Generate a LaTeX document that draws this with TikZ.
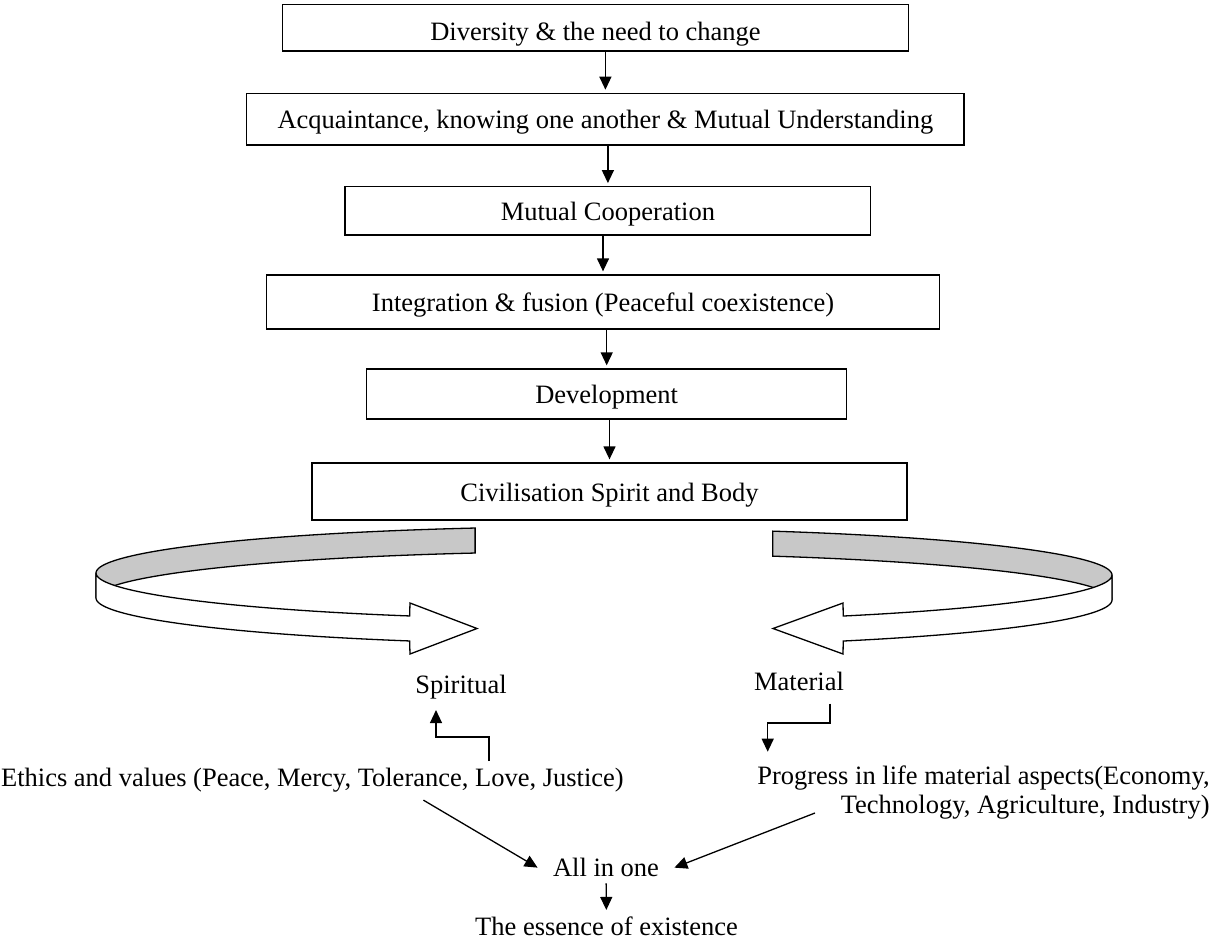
\documentclass[tikz,border=0pt]{standalone}
\usepackage{fontspec}
\setmainfont{Liberation Serif}
\usepackage{xcolor}
\usepackage{tikz}
\usetikzlibrary{arrows.meta, positioning, calc}
\definecolor{ribbongray}{RGB}{200, 200, 200}

\tikzset{
    stagebox/.style={draw, line width=0.65pt, inner sep=0pt, text height=11pt, text depth=1.5pt,
        font=\fontsize{13.25}{14.5}\selectfont},
    plainlabel/.style={inner sep=3pt, font=\fontsize{13.25}{14.5}\selectfont},
    flowarrow/.style={line width=0.65pt, -{Triangle[length=6.5pt, width=6pt]}},
    ribbon/.style={line width=0.65pt, line join=miter},
}

\begin{document}
\begin{tikzpicture}[x=0.5pt, y=-0.5pt]
        \useasboundingbox (0,0) rectangle (1212,944);

        % chain of stages
        \node[stagebox, text height=13pt, text depth=0pt, minimum width=312.8pt, minimum height=23.15pt] (diversity) at (595.5,27.9) {Diversity \& the need to change};
        \node[stagebox, minimum width=358.65pt, minimum height=25.85pt] (acquaint) at (605.4,119.2) {Acquaintance, knowing one another \& Mutual Understanding};
        \node[stagebox, minimum width=262.85pt, minimum height=24.15pt] (coop) at (607.9,210.9) {Mutual Cooperation};
        \node[stagebox, minimum width=336.3pt, minimum height=27pt] (integ) at (603,302) {Integration \& fusion (Peaceful coexistence)};
        \node[stagebox, minimum width=240pt, minimum height=25pt] (devel) at (606.7,394) {Development};
        \node[stagebox, minimum width=297.5pt, minimum height=28.5pt] (civil) at (609.5,491.5) {Civilisation Spirit and Body};

        \foreach \a/\b in {diversity/acquaint, coop/integ, acquaint/coop, integ/devel, devel/civil}
            \draw[flowarrow, shorten >=1.5pt] (\a.south -| \b.north) -- (\b.north);

        % left ribbon: back (inside) then front with arrow head
        \filldraw[ribbon, fill=ribbongray]
            plot[domain=255.3:180, samples=50] ({604+508*cos(\x)}, {573+46.5*sin(\x)})
            -- plot[domain=180:255.3, samples=50] ({604+508*cos(\x)}, {598+46.5*sin(\x)}) -- cycle;
        \filldraw[ribbon, fill=white]
            plot[domain=180:112.5, samples=50] ({604+508*cos(\x)}, {573+46.5*sin(\x)})
            -- (410,603) -- (477,628.5) -- (410,654)
            -- plot[domain=112.5:180, samples=50] ({604+508*cos(\x)}, {598+46.5*sin(\x)}) -- cycle;

        % right ribbon
        \filldraw[ribbon, fill=ribbongray]
            plot[domain=289.4:360, samples=50] ({604+508*cos(\x)}, {575+46.5*sin(\x)})
            -- plot[domain=360:289.4, samples=50] ({604+508*cos(\x)}, {600+46.5*sin(\x)}) -- cycle;
        \filldraw[ribbon, fill=white]
            plot[domain=0:61.9, samples=50] ({604+508*cos(\x)}, {575+46.5*sin(\x)})
            -- (843,603) -- (773,628.5) -- (843,654)
            -- plot[domain=61.9:0, samples=50] ({604+508*cos(\x)}, {600+46.5*sin(\x)}) -- cycle;

        % the two sides
        \node[plainlabel, anchor=base] (spiritual) at (461,693) {Spiritual};
        \node[plainlabel, anchor=base] (material) at (799,690) {Material};
        \node[plainlabel, anchor=base] (ethics) at (312.4,786) {Ethics and values (Peace, Mercy, Tolerance, Love, Justice)};
        \node[plainlabel, anchor=north east, align=right] (progress) at (1216,759.7) {Progress in life material aspects(Economy,\\ Technology, Agriculture, Industry)};
        \node[plainlabel, inner xsep=7.5pt, anchor=base] (allinone) at (606,876.7) {All in one};
        \node[plainlabel, anchor=base] (essence) at (606.5,935) {The essence of existence};

        \coordinate (sk1) at (489,737);
        \coordinate (sk2) at (436,737);
        \coordinate (mk1) at (830,723);
        \coordinate (mk2) at (767.7,723);
        \coordinate (eout) at (420,0);
        \coordinate (pout) at (815,813);

        \draw[flowarrow, shorten >=2.5pt] (ethics.north -| sk1) -- (sk1) -- (sk2) -- (spiritual.south -| sk2);
        \draw[flowarrow, shorten <=3.5pt, shorten >=4pt] (material.south -| mk1) -- (mk1) -- (mk2) -- (progress.north -| mk2);
        \draw[flowarrow, shorten <=2pt] (ethics.south -| eout) -- (allinone.west);
        \draw[flowarrow] (pout) -- (allinone.east);
        \draw[flowarrow] (allinone) -- (essence);
    \end{tikzpicture}
\end{document}
